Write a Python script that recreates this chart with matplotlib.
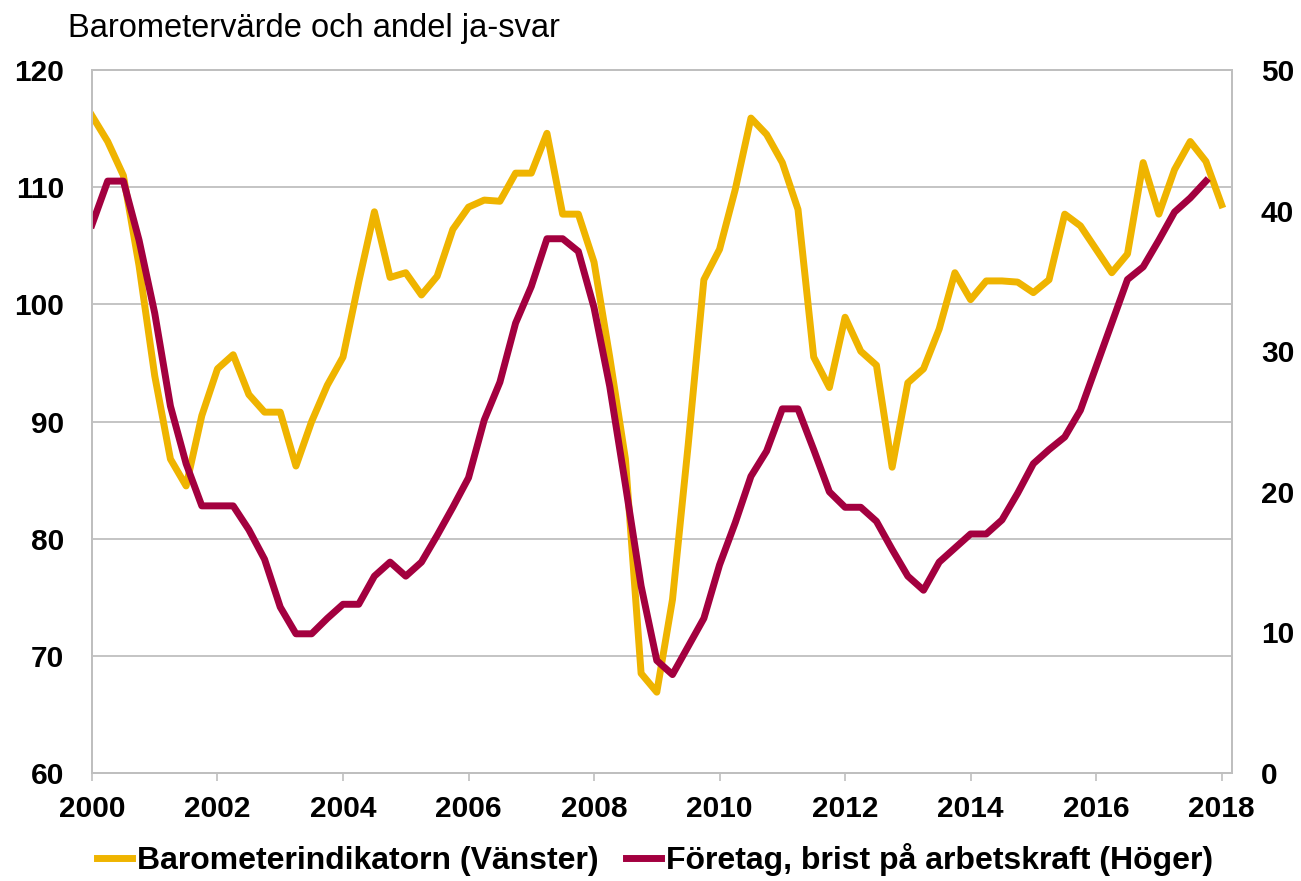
import numpy as np
import matplotlib
matplotlib.use("Agg")
import matplotlib.pyplot as plt
from matplotlib.lines import Line2D

plt.rcParams['font.family'] = ['Liberation Sans', 'DejaVu Sans']

# quarterly values, first quarter of 2000 onward
barometer = [116.1, 113.9, 111.0, 103.3, 93.9, 86.8, 84.5, 90.5, 94.5, 95.7,
             92.3, 90.8, 90.8, 86.2, 90.0, 93.1, 95.5, 101.9, 107.9, 102.3,
             102.7, 100.8, 102.4, 106.4, 108.3, 108.9, 108.8, 111.2, 111.2, 114.6,
             107.7, 107.7, 103.6, 95.5, 86.8, 68.5, 66.9, 74.8, 88.0, 102.1,
             104.7, 109.8, 115.9, 114.5, 112.1, 108.1, 95.5, 92.9, 98.9, 96.0,
             94.8, 86.1, 93.3, 94.5, 97.9, 102.7, 100.4, 102.0, 102.0, 101.9,
             101.0, 102.1, 107.7, 106.7, 104.7, 102.7, 104.3, 112.1, 107.7, 111.5,
             113.9, 112.2, 108.5]
brist = [39.0, 42.1, 42.1, 37.9, 32.7, 26.1, 22.0, 19.0, 19.0, 19.0,
         17.3, 15.2, 11.8, 9.9, 9.9, 11.0, 12.0, 12.0, 14.0, 15.0,
         14.0, 15.0, 16.9, 18.9, 21.0, 25.1, 27.8, 32.0, 34.6, 38.0,
         38.0, 37.1, 33.1, 27.5, 20.5, 13.3, 8.0, 7.0, 9.0, 11.0,
         14.8, 17.8, 21.1, 22.9, 25.9, 25.9, 23.0, 20.0, 18.9, 18.9,
         17.9, 15.9, 14.0, 13.0, 15.0, 16.0, 17.0, 17.0, 18.0, 19.9,
         22.0, 23.0, 23.9, 25.8, 28.9, 32.0, 35.1, 36.0, 37.9, 39.9,
         40.9, 42.1]

start_year = 2000
x_baro = start_year + np.arange(len(barometer)) * 0.25
x_brist = start_year + np.arange(len(brist)) * 0.25

year_ticks = list(range(2000, 2019, 2))
left_ticks = [60, 70, 80, 90, 100, 110, 120]
right_ticks = [0, 10, 20, 30, 40, 50]

title = "Barometervärde och andel ja-svar"
label_baro = "Barometerindikatorn (Vänster)"
label_brist = "Företag, brist på arbetskraft (Höger)"

yellow = '#EFB400'
red = '#A3003F'
grey = '#BFBFBF'

fig = plt.figure(figsize=(13.01, 8.81), dpi=100)
ax = fig.add_axes([0.0707, 0.1226, 0.8760, 0.7979])
ax2 = ax.twinx()

ax.plot(x_baro, barometer, color=yellow, lw=5)
ax2.plot(x_brist, brist, color=red, lw=5)

ax.set_xlim(2000, 2018.16)
ax.set_ylim(60, 120)
ax2.set_ylim(0, 50)

ax.set_xticks(year_ticks)
ax.set_xticklabels([str(y) for y in year_ticks], fontsize=21.5, fontweight='bold')
ax.set_yticks(left_ticks)
ax.set_yticklabels([str(v) for v in left_ticks], fontsize=21.5, fontweight='bold')
ax2.set_yticks(right_ticks)
ax2.set_yticklabels([str(v) for v in right_ticks], fontsize=21.5, fontweight='bold')

ax.yaxis.grid(True, color=grey, lw=1.3)
ax.set_axisbelow(True)
ax.tick_params(axis='y', length=0, pad=20)
ax2.tick_params(axis='y', length=0, pad=21)
ax.tick_params(axis='x', length=6, width=1.2, color=grey, pad=10)

for a in (ax, ax2):
    for s in a.spines.values():
        s.set_color(grey)
        s.set_linewidth(1.3)

fig.text(68 / 1301, 1 - 29 / 881, title, fontsize=23.5, va='center', ha='left')

handles = [Line2D([], [], color=yellow, lw=5), Line2D([], [], color=red, lw=5)]
fig.legend(handles, [label_baro, label_brist], loc='center',
           bbox_to_anchor=(0.5035, 1 - 860 / 881), ncol=2, frameon=False,
           prop={'size': 23, 'weight': 'bold'}, handlelength=1.1,
           handletextpad=0.16, columnspacing=0.85)

fig.savefig("out.png", dpi=100)
